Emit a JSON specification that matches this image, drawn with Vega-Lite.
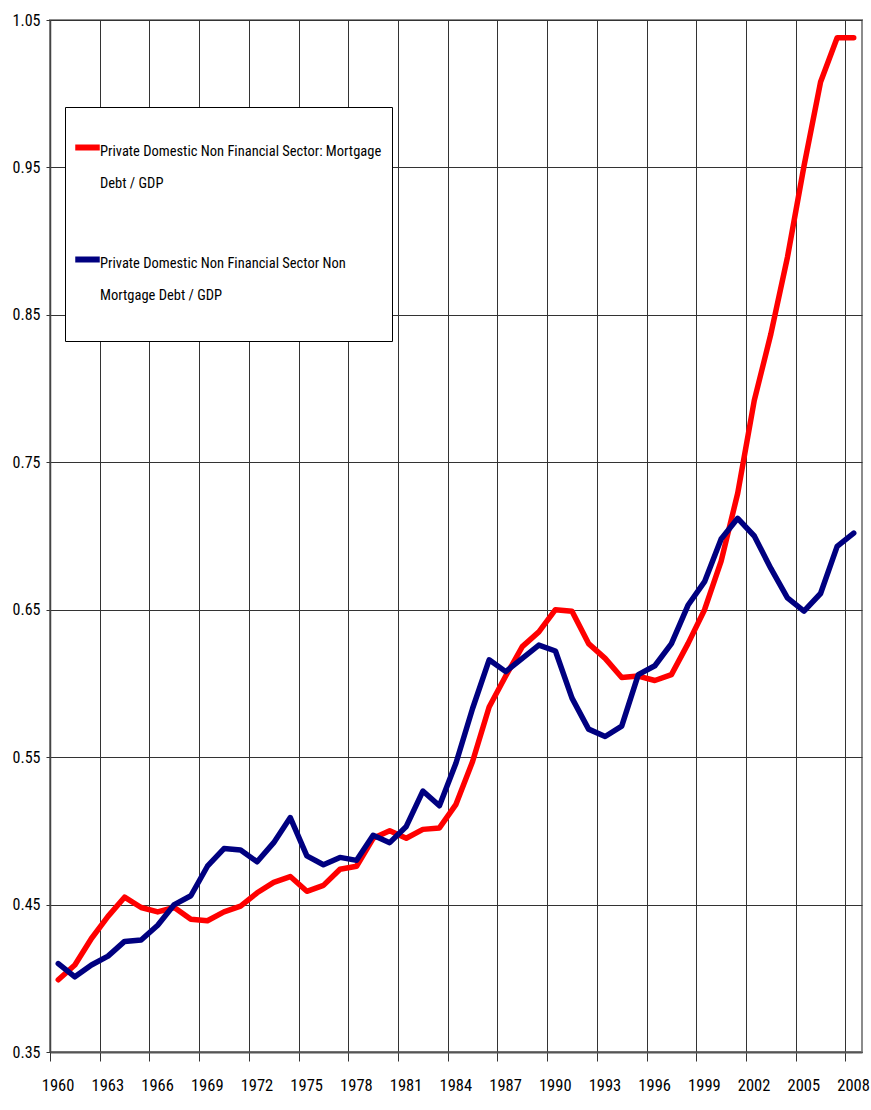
{
  "$schema": "https://vega.github.io/schema/vega-lite/v6.json",
  "width": 812,
  "height": 1032,
  "autosize": {"type": "none"},
  "padding": {"left": 50, "top": 20, "right": 9, "bottom": 58},
  "background": "white",
  "config": {
    "view": {"stroke": "#8c8c8c", "strokeWidth": 2},
    "font": "Roboto Condensed, DejaVu Sans Condensed, sans-serif",
    "axis": {
      "labelFont": "Roboto Condensed, DejaVu Sans Condensed, sans-serif",
      "labelColor": "#000000",
      "labelFontSize": 16,
      "gridColor": "#333333",
      "gridOpacity": 1,
      "gridWidth": 1,
      "tickColor": "#333333",
      "domainColor": "#444444",
      "labelOverlap": false,
      "labelFlush": false
    },
    "legend": {
      "labelFont": "Roboto Condensed, DejaVu Sans Condensed, sans-serif",
      "titleFont": "Roboto Condensed, DejaVu Sans Condensed, sans-serif"
    }
  },
  "data": {
    "values": [
      {"year": 1960, "series": "Private Domestic Non Financial Sector:  Mortgage Debt / GDP", "value": 0.399},
      {"year": 1961, "series": "Private Domestic Non Financial Sector:  Mortgage Debt / GDP", "value": 0.409},
      {"year": 1962, "series": "Private Domestic Non Financial Sector:  Mortgage Debt / GDP", "value": 0.427},
      {"year": 1963, "series": "Private Domestic Non Financial Sector:  Mortgage Debt / GDP", "value": 0.442},
      {"year": 1964, "series": "Private Domestic Non Financial Sector:  Mortgage Debt / GDP", "value": 0.455},
      {"year": 1965, "series": "Private Domestic Non Financial Sector:  Mortgage Debt / GDP", "value": 0.448},
      {"year": 1966, "series": "Private Domestic Non Financial Sector:  Mortgage Debt / GDP", "value": 0.445},
      {"year": 1967, "series": "Private Domestic Non Financial Sector:  Mortgage Debt / GDP", "value": 0.448},
      {"year": 1968, "series": "Private Domestic Non Financial Sector:  Mortgage Debt / GDP", "value": 0.440},
      {"year": 1969, "series": "Private Domestic Non Financial Sector:  Mortgage Debt / GDP", "value": 0.439},
      {"year": 1970, "series": "Private Domestic Non Financial Sector:  Mortgage Debt / GDP", "value": 0.445},
      {"year": 1971, "series": "Private Domestic Non Financial Sector:  Mortgage Debt / GDP", "value": 0.449},
      {"year": 1972, "series": "Private Domestic Non Financial Sector:  Mortgage Debt / GDP", "value": 0.458},
      {"year": 1973, "series": "Private Domestic Non Financial Sector:  Mortgage Debt / GDP", "value": 0.465},
      {"year": 1974, "series": "Private Domestic Non Financial Sector:  Mortgage Debt / GDP", "value": 0.469},
      {"year": 1975, "series": "Private Domestic Non Financial Sector:  Mortgage Debt / GDP", "value": 0.459},
      {"year": 1976, "series": "Private Domestic Non Financial Sector:  Mortgage Debt / GDP", "value": 0.463},
      {"year": 1977, "series": "Private Domestic Non Financial Sector:  Mortgage Debt / GDP", "value": 0.474},
      {"year": 1978, "series": "Private Domestic Non Financial Sector:  Mortgage Debt / GDP", "value": 0.476},
      {"year": 1979, "series": "Private Domestic Non Financial Sector:  Mortgage Debt / GDP", "value": 0.495},
      {"year": 1980, "series": "Private Domestic Non Financial Sector:  Mortgage Debt / GDP", "value": 0.500},
      {"year": 1981, "series": "Private Domestic Non Financial Sector:  Mortgage Debt / GDP", "value": 0.495},
      {"year": 1982, "series": "Private Domestic Non Financial Sector:  Mortgage Debt / GDP", "value": 0.501},
      {"year": 1983, "series": "Private Domestic Non Financial Sector:  Mortgage Debt / GDP", "value": 0.502},
      {"year": 1984, "series": "Private Domestic Non Financial Sector:  Mortgage Debt / GDP", "value": 0.518},
      {"year": 1985, "series": "Private Domestic Non Financial Sector:  Mortgage Debt / GDP", "value": 0.547},
      {"year": 1986, "series": "Private Domestic Non Financial Sector:  Mortgage Debt / GDP", "value": 0.584},
      {"year": 1987, "series": "Private Domestic Non Financial Sector:  Mortgage Debt / GDP", "value": 0.605},
      {"year": 1988, "series": "Private Domestic Non Financial Sector:  Mortgage Debt / GDP", "value": 0.625},
      {"year": 1989, "series": "Private Domestic Non Financial Sector:  Mortgage Debt / GDP", "value": 0.635},
      {"year": 1990, "series": "Private Domestic Non Financial Sector:  Mortgage Debt / GDP", "value": 0.650},
      {"year": 1991, "series": "Private Domestic Non Financial Sector:  Mortgage Debt / GDP", "value": 0.649},
      {"year": 1992, "series": "Private Domestic Non Financial Sector:  Mortgage Debt / GDP", "value": 0.627},
      {"year": 1993, "series": "Private Domestic Non Financial Sector:  Mortgage Debt / GDP", "value": 0.617},
      {"year": 1994, "series": "Private Domestic Non Financial Sector:  Mortgage Debt / GDP", "value": 0.604},
      {"year": 1995, "series": "Private Domestic Non Financial Sector:  Mortgage Debt / GDP", "value": 0.605},
      {"year": 1996, "series": "Private Domestic Non Financial Sector:  Mortgage Debt / GDP", "value": 0.602},
      {"year": 1997, "series": "Private Domestic Non Financial Sector:  Mortgage Debt / GDP", "value": 0.606},
      {"year": 1998, "series": "Private Domestic Non Financial Sector:  Mortgage Debt / GDP", "value": 0.627},
      {"year": 1999, "series": "Private Domestic Non Financial Sector:  Mortgage Debt / GDP", "value": 0.650},
      {"year": 2000, "series": "Private Domestic Non Financial Sector:  Mortgage Debt / GDP", "value": 0.683},
      {"year": 2001, "series": "Private Domestic Non Financial Sector:  Mortgage Debt / GDP", "value": 0.729},
      {"year": 2002, "series": "Private Domestic Non Financial Sector:  Mortgage Debt / GDP", "value": 0.792},
      {"year": 2003, "series": "Private Domestic Non Financial Sector:  Mortgage Debt / GDP", "value": 0.837},
      {"year": 2004, "series": "Private Domestic Non Financial Sector:  Mortgage Debt / GDP", "value": 0.889},
      {"year": 2005, "series": "Private Domestic Non Financial Sector:  Mortgage Debt / GDP", "value": 0.951},
      {"year": 2006, "series": "Private Domestic Non Financial Sector:  Mortgage Debt / GDP", "value": 1.008},
      {"year": 2007, "series": "Private Domestic Non Financial Sector:  Mortgage Debt / GDP", "value": 1.038},
      {"year": 2008, "series": "Private Domestic Non Financial Sector:  Mortgage Debt / GDP", "value": 1.038},
      {"year": 1960, "series": "Private Domestic Non Financial Sector Non Mortgage Debt / GDP", "value": 0.410},
      {"year": 1961, "series": "Private Domestic Non Financial Sector Non Mortgage Debt / GDP", "value": 0.401},
      {"year": 1962, "series": "Private Domestic Non Financial Sector Non Mortgage Debt / GDP", "value": 0.409},
      {"year": 1963, "series": "Private Domestic Non Financial Sector Non Mortgage Debt / GDP", "value": 0.415},
      {"year": 1964, "series": "Private Domestic Non Financial Sector Non Mortgage Debt / GDP", "value": 0.425},
      {"year": 1965, "series": "Private Domestic Non Financial Sector Non Mortgage Debt / GDP", "value": 0.426},
      {"year": 1966, "series": "Private Domestic Non Financial Sector Non Mortgage Debt / GDP", "value": 0.436},
      {"year": 1967, "series": "Private Domestic Non Financial Sector Non Mortgage Debt / GDP", "value": 0.450},
      {"year": 1968, "series": "Private Domestic Non Financial Sector Non Mortgage Debt / GDP", "value": 0.456},
      {"year": 1969, "series": "Private Domestic Non Financial Sector Non Mortgage Debt / GDP", "value": 0.476},
      {"year": 1970, "series": "Private Domestic Non Financial Sector Non Mortgage Debt / GDP", "value": 0.488},
      {"year": 1971, "series": "Private Domestic Non Financial Sector Non Mortgage Debt / GDP", "value": 0.487},
      {"year": 1972, "series": "Private Domestic Non Financial Sector Non Mortgage Debt / GDP", "value": 0.479},
      {"year": 1973, "series": "Private Domestic Non Financial Sector Non Mortgage Debt / GDP", "value": 0.492},
      {"year": 1974, "series": "Private Domestic Non Financial Sector Non Mortgage Debt / GDP", "value": 0.509},
      {"year": 1975, "series": "Private Domestic Non Financial Sector Non Mortgage Debt / GDP", "value": 0.483},
      {"year": 1976, "series": "Private Domestic Non Financial Sector Non Mortgage Debt / GDP", "value": 0.477},
      {"year": 1977, "series": "Private Domestic Non Financial Sector Non Mortgage Debt / GDP", "value": 0.482},
      {"year": 1978, "series": "Private Domestic Non Financial Sector Non Mortgage Debt / GDP", "value": 0.480},
      {"year": 1979, "series": "Private Domestic Non Financial Sector Non Mortgage Debt / GDP", "value": 0.497},
      {"year": 1980, "series": "Private Domestic Non Financial Sector Non Mortgage Debt / GDP", "value": 0.492},
      {"year": 1981, "series": "Private Domestic Non Financial Sector Non Mortgage Debt / GDP", "value": 0.503},
      {"year": 1982, "series": "Private Domestic Non Financial Sector Non Mortgage Debt / GDP", "value": 0.527},
      {"year": 1983, "series": "Private Domestic Non Financial Sector Non Mortgage Debt / GDP", "value": 0.517},
      {"year": 1984, "series": "Private Domestic Non Financial Sector Non Mortgage Debt / GDP", "value": 0.546},
      {"year": 1985, "series": "Private Domestic Non Financial Sector Non Mortgage Debt / GDP", "value": 0.583},
      {"year": 1986, "series": "Private Domestic Non Financial Sector Non Mortgage Debt / GDP", "value": 0.616},
      {"year": 1987, "series": "Private Domestic Non Financial Sector Non Mortgage Debt / GDP", "value": 0.608},
      {"year": 1988, "series": "Private Domestic Non Financial Sector Non Mortgage Debt / GDP", "value": 0.617},
      {"year": 1989, "series": "Private Domestic Non Financial Sector Non Mortgage Debt / GDP", "value": 0.626},
      {"year": 1990, "series": "Private Domestic Non Financial Sector Non Mortgage Debt / GDP", "value": 0.622},
      {"year": 1991, "series": "Private Domestic Non Financial Sector Non Mortgage Debt / GDP", "value": 0.590},
      {"year": 1992, "series": "Private Domestic Non Financial Sector Non Mortgage Debt / GDP", "value": 0.569},
      {"year": 1993, "series": "Private Domestic Non Financial Sector Non Mortgage Debt / GDP", "value": 0.564},
      {"year": 1994, "series": "Private Domestic Non Financial Sector Non Mortgage Debt / GDP", "value": 0.571},
      {"year": 1995, "series": "Private Domestic Non Financial Sector Non Mortgage Debt / GDP", "value": 0.606},
      {"year": 1996, "series": "Private Domestic Non Financial Sector Non Mortgage Debt / GDP", "value": 0.612},
      {"year": 1997, "series": "Private Domestic Non Financial Sector Non Mortgage Debt / GDP", "value": 0.627},
      {"year": 1998, "series": "Private Domestic Non Financial Sector Non Mortgage Debt / GDP", "value": 0.653},
      {"year": 1999, "series": "Private Domestic Non Financial Sector Non Mortgage Debt / GDP", "value": 0.669},
      {"year": 2000, "series": "Private Domestic Non Financial Sector Non Mortgage Debt / GDP", "value": 0.698},
      {"year": 2001, "series": "Private Domestic Non Financial Sector Non Mortgage Debt / GDP", "value": 0.712},
      {"year": 2002, "series": "Private Domestic Non Financial Sector Non Mortgage Debt / GDP", "value": 0.700},
      {"year": 2003, "series": "Private Domestic Non Financial Sector Non Mortgage Debt / GDP", "value": 0.678},
      {"year": 2004, "series": "Private Domestic Non Financial Sector Non Mortgage Debt / GDP", "value": 0.658},
      {"year": 2005, "series": "Private Domestic Non Financial Sector Non Mortgage Debt / GDP", "value": 0.649},
      {"year": 2006, "series": "Private Domestic Non Financial Sector Non Mortgage Debt / GDP", "value": 0.661},
      {"year": 2007, "series": "Private Domestic Non Financial Sector Non Mortgage Debt / GDP", "value": 0.693},
      {"year": 2008, "series": "Private Domestic Non Financial Sector Non Mortgage Debt / GDP", "value": 0.702}
    ]
  },
  "mark": {"type": "line", "strokeWidth": 5.5, "strokeCap": "round", "strokeJoin": "round"},
  "encoding": {
    "x": {
      "field": "year",
      "type": "quantitative",
      "scale": {"domain": [1959.5, 2008.5], "nice": false, "zero": false},
      "axis": {
        "title": null,
        "values": [1959.5, 1962.5, 1965.5, 1968.5, 1971.5, 1974.5, 1977.5, 1980.5, 1983.5, 1986.5, 1989.5, 1992.5, 1995.5, 1998.5, 2001.5, 2004.5, 2007.5],
        "labelExpr": "format(datum.value + 0.5, 'd')",
        "labelOffset": 7.6,
        "labelFontSize": 16.5,
        "grid": true,
        "ticks": true,
        "tickSize": 9,
        "labelPadding": 16,
        "domainWidth": 2,
        "domainColor": "#555555"
      }
    },
    "y": {
      "field": "value",
      "type": "quantitative",
      "scale": {"domain": [0.35, 1.05], "nice": false, "zero": false},
      "axis": {
        "title": null,
        "values": [0.35, 0.45, 0.55, 0.65, 0.75, 0.85, 0.95, 1.05],
        "format": ".2f",
        "grid": true,
        "tickSize": 4,
        "labelPadding": 6,
        "domainWidth": 1.5
      }
    },
    "color": {
      "field": "series",
      "type": "nominal",
      "scale": {
        "domain": ["Private Domestic Non Financial Sector:  Mortgage Debt / GDP", "Private Domestic Non Financial Sector Non Mortgage Debt / GDP"],
        "range": ["#ff0000", "#000080"]
      },
      "legend": {
        "orient": "none",
        "legendX": 15,
        "legendY": 87,
        "title": " ",
        "titleFontSize": 10,
        "titlePadding": 8,
        "fillColor": "white",
        "strokeColor": "#000000",
        "padding": 7,
        "symbolType": "stroke",
        "symbolStrokeWidth": 6,
        "symbolSize": 600,
        "labelFontSize": 14.5,
        "labelColor": "#000000",
        "labelLimit": 400,
        "labelOffset": -3,
        "rowPadding": 54,
        "labelBaseline": "top",
        "labelExpr": "indexof(datum.label, 'Non Mortgage') >= 0 ? ['Private Domestic Non Financial Sector Non', 'Mortgage Debt / GDP', ''] : ['Private Domestic Non Financial Sector:  Mortgage', 'Debt / GDP']",
        "encode": {"labels": {"update": {"lineHeight": {"value": 32}, "dy": {"value": -3}}}}
      }
    }
  }
}
